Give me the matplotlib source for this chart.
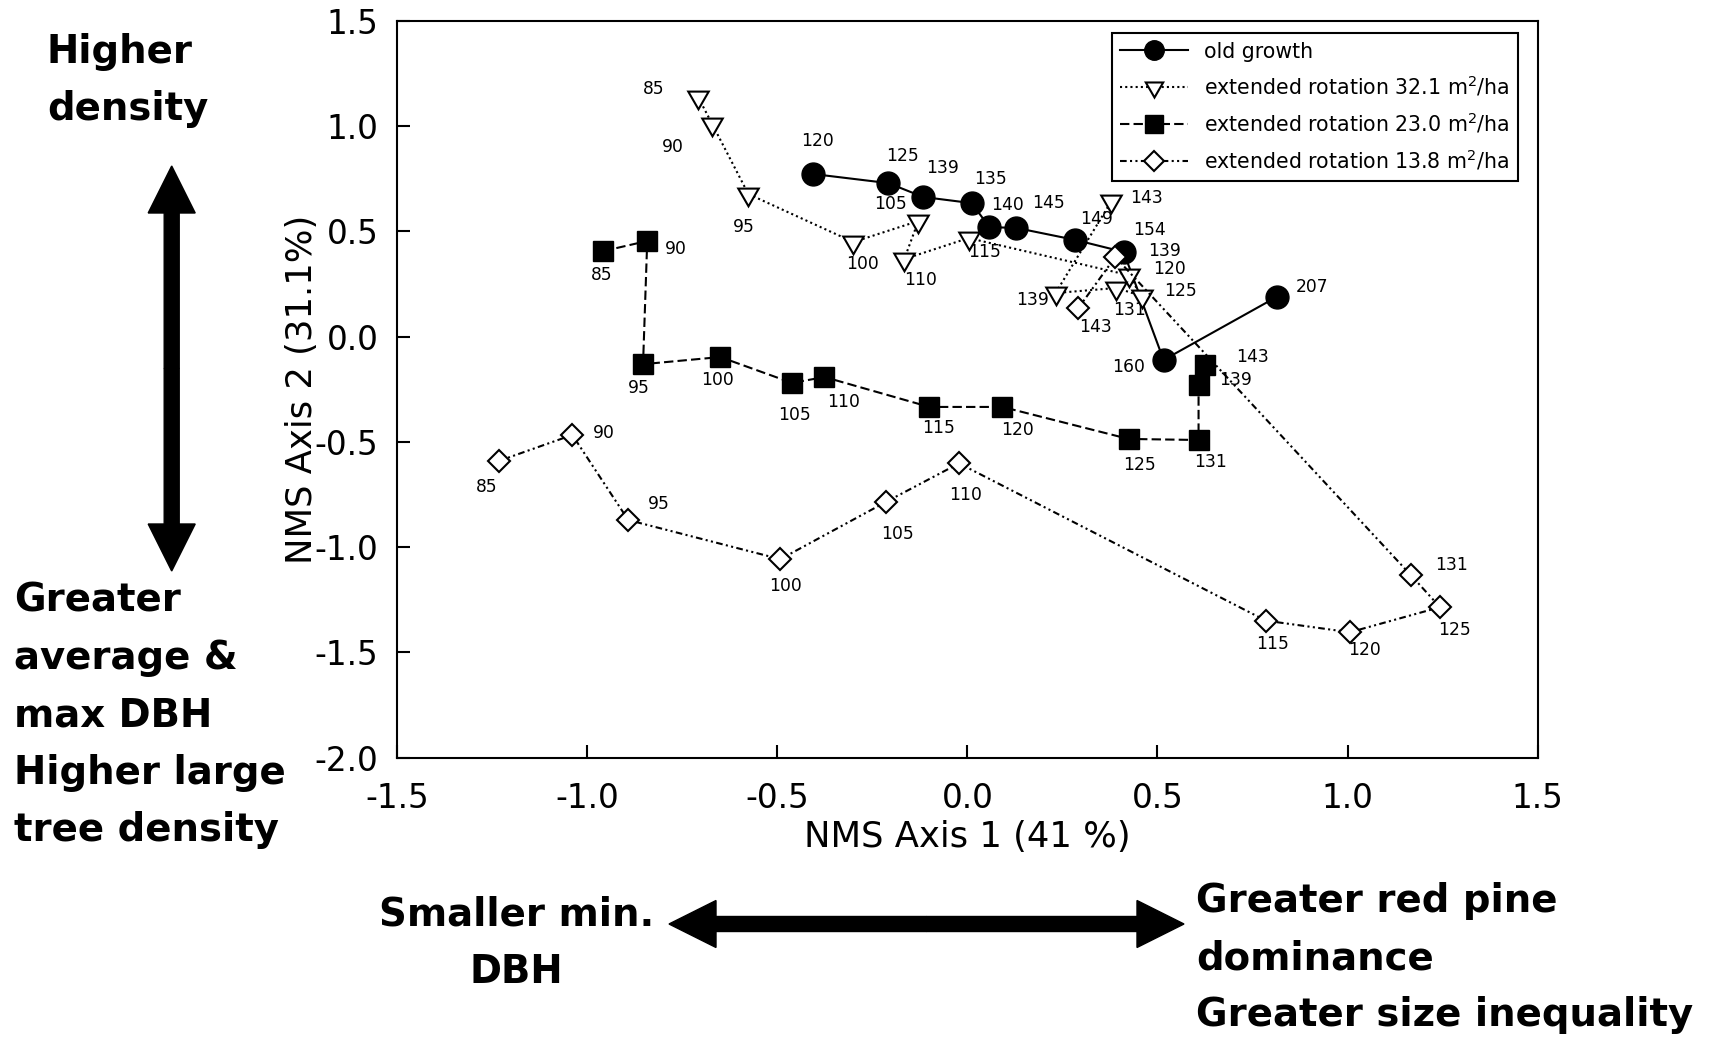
import matplotlib
matplotlib.use("Agg")
import matplotlib.pyplot as plt
from matplotlib.patches import FancyArrow
from matplotlib.transforms import IdentityTransform

plt.rcParams["font.family"] = ["DejaVu Sans"]
plt.rcParams["axes.unicode_minus"] = False

# stand ages shown next to each point
ages_old = ["120", "125", "139", "135", "140", "145", "149", "154", "160", "207"]
ages_ext = ["85", "90", "95", "100", "105", "110", "115", "120", "125", "131", "139", "143"]

# NMS scores
old_x = [-0.405, -0.208, -0.116, 0.011, 0.058, 0.129, 0.284, 0.411, 0.516, 0.813]
old_y = [0.772, 0.729, 0.663, 0.634, 0.520, 0.516, 0.459, 0.402, -0.111, 0.188]

r32_x = [-0.708, -0.671, -0.576, -0.300, -0.129, -0.166, 0.003, 0.424, 0.458, 0.392, 0.232, 0.379]
r32_y = [1.137, 1.009, 0.677, 0.449, 0.549, 0.368, 0.468, 0.292, 0.193, 0.231, 0.207, 0.644]

r23_x = [-0.958, -0.842, -0.853, -0.650, -0.461, -0.376, -0.100, 0.092, 0.424, 0.608, 0.608, 0.626]
r23_y = [0.406, 0.454, -0.131, -0.097, -0.220, -0.192, -0.334, -0.334, -0.486, -0.491, -0.230, -0.135]

r14_x = [-1.233, -1.039, -0.892, -0.492, -0.213, -0.022, 0.785, 1.006, 1.243, 1.166, 0.389, 0.292]
r14_y = [-0.591, -0.467, -0.871, -1.057, -0.784, -0.602, -1.349, -1.404, -1.285, -1.132, 0.378, 0.136]

x_ticks = [-1.5, -1.0, -0.5, 0.0, 0.5, 1.0, 1.5]
y_ticks = [-2.0, -1.5, -1.0, -0.5, 0.0, 0.5, 1.0, 1.5]

# label offsets (points) for the age annotations
off_old = [(2.9, 23.8), (10.1, 19.4), (13.7, 20.9), (13.7, 17.3), (13, 15.8),
           (23, 18), (15, 15), (18.7, 16), (-25.2, -5), (25.9, 7.2)]
off_32 = [(-31.7, 5.8), (-28.1, -16.6), (-3.6, -23.8), (6.5, -15.8), (-20.2, 12.2),
          (11.5, -15.1), (11.5, -10.1), (29.5, 4.3), (28.1, 3.6), (9.4, -15.8),
          (-16.6, -5), (25.2, 2.2)]
off_23 = [(-0.7, -17.3), (20.9, -5.8), (-2.9, -17.3), (-1.8, -16.6), (1.4, -23),
          (13.7, -18), (6.5, -15.1), (10.8, -16.6), (7.9, -18.7), (8.6, -15.8),
          (26.6, 3.6), (33.8, 5.8)]
off_14 = [(-8.6, -18.7), (23, 1.4), (22.3, 11.5), (3.6, -19.4), (7.9, -23),
          (5, -23), (5, -16.6), (10.8, -13), (10.1, -16.6), (29.5, 7.2),
          (35.5, 4.5), (12.2, -13.7)]

fig = plt.figure(figsize=(17.27, 10.43), dpi=100)
ax = fig.add_axes([0.2299, 0.2735, 0.6605, 0.7066])

lw = 1.5
h_old, = ax.plot(old_x, old_y, color="black", lw=lw, ls="-", marker="o", ms=16.5,
                 mfc="black", mec="black", zorder=3, label="old growth")
h32, = ax.plot(r32_x, r32_y, color="black", lw=lw, ls=(0, (1, 1.5)), marker=(3, 0, 180),
               ms=17, mfc="white", mec="black", mew=1.5, zorder=4,
               label="extended rotation 32.1 m$^{2}$/ha")
h23, = ax.plot(r23_x, r23_y, color="black", lw=lw, ls=(0, (4.5, 2)), marker="s", ms=15,
               mfc="black", mec="black", zorder=2.5,
               label="extended rotation 23.0 m$^{2}$/ha")
h14, = ax.plot(r14_x, r14_y, color="black", lw=lw, ls=(0, (3.2, 1.6, 1, 1.6, 1, 1.6)),
               marker="D", ms=11.5, mfc="white", mec="black", mew=1.5, zorder=5,
               label="extended rotation 13.8 m$^{2}$/ha")

for xs, ys, labs, offs in [(old_x, old_y, ages_old, off_old), (r32_x, r32_y, ages_ext, off_32),
                           (r23_x, r23_y, ages_ext, off_23), (r14_x, r14_y, ages_ext, off_14)]:
    for x, y, t, (dx, dy) in zip(xs, ys, labs, offs):
        ax.annotate(t, (x, y), xytext=(dx, dy), textcoords="offset points",
                    ha="center", va="center", fontsize=12.3, zorder=1)

ax.set_xlim(-1.5, 1.5)
ax.set_ylim(-2.0, 1.5)
ax.set_xticks(x_ticks)
ax.set_yticks(y_ticks)
ax.set_xticklabels([f"{v:.1f}" for v in x_ticks])
ax.set_yticklabels([f"{v:.1f}" for v in y_ticks])
ax.tick_params(direction="in", length=9.4, width=1.5, labelsize=23.5, top=False, right=False)
ax.tick_params(axis="x", pad=17.5)
ax.tick_params(axis="y", pad=13.5)
for s in ax.spines.values():
    s.set_linewidth(1.5)

ax.set_xlabel("NMS Axis 1 (41 %)", fontsize=25.5)
ax.xaxis.set_label_coords(0.5, -0.0845)
ax.set_ylabel("NMS Axis 2 (31.1%)", fontsize=25.5)
ax.yaxis.set_label_coords(-0.0684, 0.5)

leg = ax.legend(handles=[h_old, h32, h23, h14], loc="upper right",
                bbox_to_anchor=(0.983, 0.983), borderaxespad=0, fontsize=14.8,
                frameon=True, fancybox=False, edgecolor="black", framealpha=1,
                handlelength=3.3, handletextpad=0.8, labelspacing=0.6,
                borderpad=0.4, markerscale=0.85)
leg.get_frame().set_linewidth(1.5)

# interpretive annotations around the ordination
bold = dict(fontsize=27.8, fontweight="bold", linespacing=1.64, va="top")
fig.text(0.0272, 0.9684, "Higher\ndensity", ha="left", **bold)
fig.text(0.0079, 0.442, "Greater\naverage &\nmax DBH\nHigher large\ntree density", ha="left", **bold)
fig.text(0.299, 0.141, "Smaller min.\nDBH", ha="center", multialignment="center", **bold)
fig.text(0.6925, 0.1544, "Greater red pine\ndominance\nGreater size inequality", ha="left", **bold)

H = 1043
arrow_kw = dict(width=15, head_width=47, head_length=47, length_includes_head=True,
                color="black", transform=IdentityTransform())
vx, vtop, vbot = 171.7, H - 166, H - 571
vmid = (vtop + vbot) / 2
fig.add_artist(FancyArrow(vx, vmid, 0, vtop - vmid, **arrow_kw))
fig.add_artist(FancyArrow(vx, vmid, 0, vbot - vmid, **arrow_kw))
hy, hl, hr = H - 924, 669, 1184
hmid = (hl + hr) / 2
fig.add_artist(FancyArrow(hmid, hy, hl - hmid, 0, **arrow_kw))
fig.add_artist(FancyArrow(hmid, hy, hr - hmid, 0, **arrow_kw))

fig.savefig("out.png", dpi=100)
